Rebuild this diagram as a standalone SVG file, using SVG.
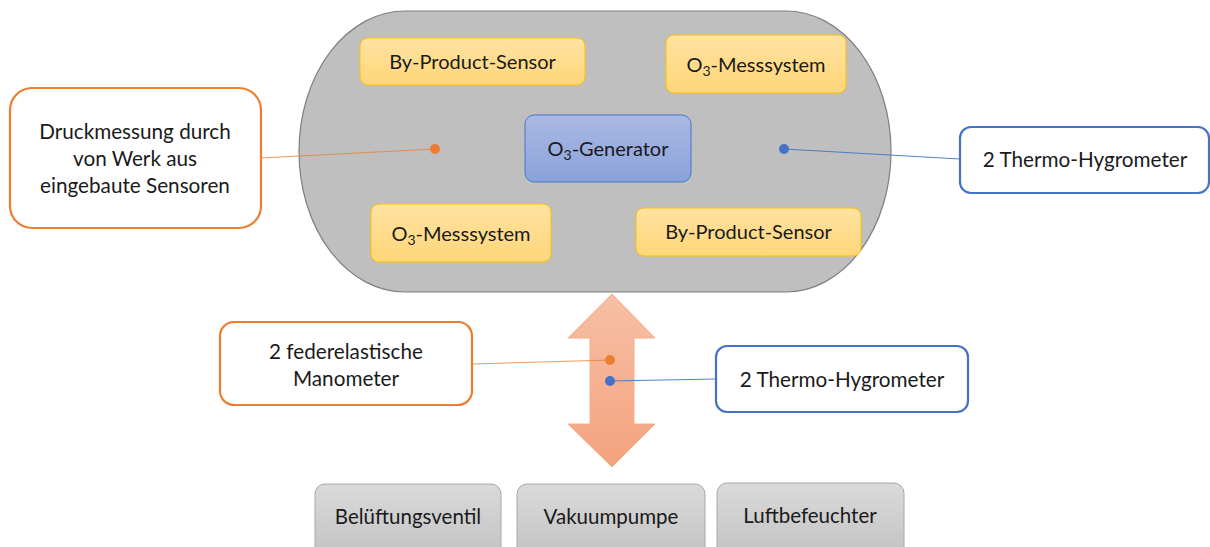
<svg xmlns="http://www.w3.org/2000/svg" width="1210" height="547" viewBox="0 0 1210 547">
<defs>
<linearGradient id="gy" x1="0" y1="0" x2="0" y2="1"><stop offset="0" stop-color="#ffe3a3"/><stop offset="1" stop-color="#ffd678"/></linearGradient>
<linearGradient id="gb" x1="0" y1="0" x2="0" y2="1"><stop offset="0" stop-color="#aab9e4"/><stop offset="1" stop-color="#8aa2da"/></linearGradient>
<linearGradient id="gg" x1="0" y1="0" x2="0" y2="1"><stop offset="0" stop-color="#dadada"/><stop offset="1" stop-color="#c2c2c2"/></linearGradient>
<linearGradient id="ga" x1="0" y1="0" x2="0" y2="1"><stop offset="0" stop-color="#f7c0a5"/><stop offset="1" stop-color="#f4a27e"/></linearGradient>
<style>
.t{font-family:Lato,"Liberation Sans",sans-serif;fill:#1a1a1a;text-anchor:middle;}
.y{fill:url(#gy);stroke:#ffc000;stroke-width:1;}
.b{fill:url(#gb);stroke:#4a76c6;stroke-width:1;}
.g{fill:url(#gg);stroke:#a8a8a8;stroke-width:1;}
.co{fill:#fff;stroke:#ed7d31;stroke-width:2.2;}
.cb{fill:#fff;stroke:#4472c4;stroke-width:2.2;}
.sub{font-size:70%;}
</style>
</defs>
<g id="chamber">
<path d="M405,11 H786 A105,140.5 0 0 1 891,151.5 A105,140.5 0 0 1 786,292 H405 A106,140.5 0 0 1 299,151.5 A106,140.5 0 0 1 405,11 Z" fill="#bfbfbf" stroke="#7f7f7f" stroke-width="1.2"/>
</g>
<g id="arrow">
<path d="M612,294 L655,338 L634,338 L634,424 L655,424 L612,467 L568,424 L590,424 L590,338 L568,338 Z" fill="url(#ga)" stroke="#f4b08c" stroke-width="1"/>
</g>
<g id="bp1"><rect class="y" x="360" y="38" width="225" height="47" rx="8"/><text class="t" x="472.5" y="69" font-size="20">By-Product-Sensor</text></g>
<g id="o3m1"><rect class="y" x="666" y="35" width="180" height="58" rx="8"/><text class="t" x="756" y="72" font-size="20">O<tspan class="sub" dy="4">3</tspan><tspan dy="-4">-Messsystem</tspan></text></g>
<g id="gen"><rect class="b" x="525" y="115" width="166" height="67" rx="9"/><text class="t" x="608" y="156" font-size="20">O<tspan class="sub" dy="4">3</tspan><tspan dy="-4">-Generator</tspan></text></g>
<g id="o3m2"><rect class="y" x="371" y="204" width="180" height="58" rx="8"/><text class="t" x="461" y="241" font-size="20">O<tspan class="sub" dy="4">3</tspan><tspan dy="-4">-Messsystem</tspan></text></g>
<g id="bp2"><rect class="y" x="636" y="208" width="225" height="48" rx="8"/><text class="t" x="748.5" y="239" font-size="20">By-Product-Sensor</text></g>
<g id="connectors">
<line x1="261" y1="158" x2="435" y2="149" stroke="#ed7d31" stroke-width="1" stroke-opacity="0.8"/>
<line x1="784" y1="149" x2="960" y2="159" stroke="#4472c4" stroke-width="1" stroke-opacity="0.9"/>
<line x1="472" y1="364" x2="610" y2="360" stroke="#ed7d31" stroke-width="1" stroke-opacity="0.8"/>
<line x1="610" y1="381" x2="716" y2="379" stroke="#4472c4" stroke-width="1" stroke-opacity="0.9"/>
<circle cx="435" cy="149" r="5" fill="#ed7d31"/>
<circle cx="784" cy="149" r="5" fill="#4472c4"/>
<circle cx="610" cy="360" r="5" fill="#ed7d31"/>
<circle cx="610" cy="381" r="5" fill="#4472c4"/>
</g>
<g id="druck"><rect class="co" x="10" y="88" width="251" height="140" rx="22"/>
<text class="t" x="135" y="139" font-size="20.7">Druckmessung durch</text>
<text class="t" x="135" y="166" font-size="20.7">von Werk aus</text>
<text class="t" x="135" y="193" font-size="20.7">eingebaute Sensoren</text></g>
<g id="thermo1"><rect class="cb" x="960" y="127" width="249" height="66" rx="11"/><text class="t" x="1085" y="167" font-size="20.7">2 Thermo-Hygrometer</text></g>
<g id="mano"><rect class="co" x="220" y="322" width="252" height="83" rx="14"/>
<text class="t" x="346" y="359" font-size="20.7">2 federelastische</text>
<text class="t" x="346" y="386" font-size="20.7">Manometer</text></g>
<g id="thermo2"><rect class="cb" x="716" y="346" width="252" height="66" rx="11"/><text class="t" x="842" y="387" font-size="20.7">2 Thermo-Hygrometer</text></g>
<g id="belueft"><rect class="g" x="315" y="484" width="186" height="75" rx="10"/><text class="t" x="408" y="524" font-size="20.5">Belüftungsventil</text></g>
<g id="vakuum"><rect class="g" x="517" y="484" width="188" height="75" rx="10"/><text class="t" x="611" y="524" font-size="20.5">Vakuumpumpe</text></g>
<g id="luft"><rect class="g" x="717" y="483" width="187" height="76" rx="10"/><text class="t" x="810" y="523" font-size="20.5">Luftbefeuchter</text></g>
</svg>
